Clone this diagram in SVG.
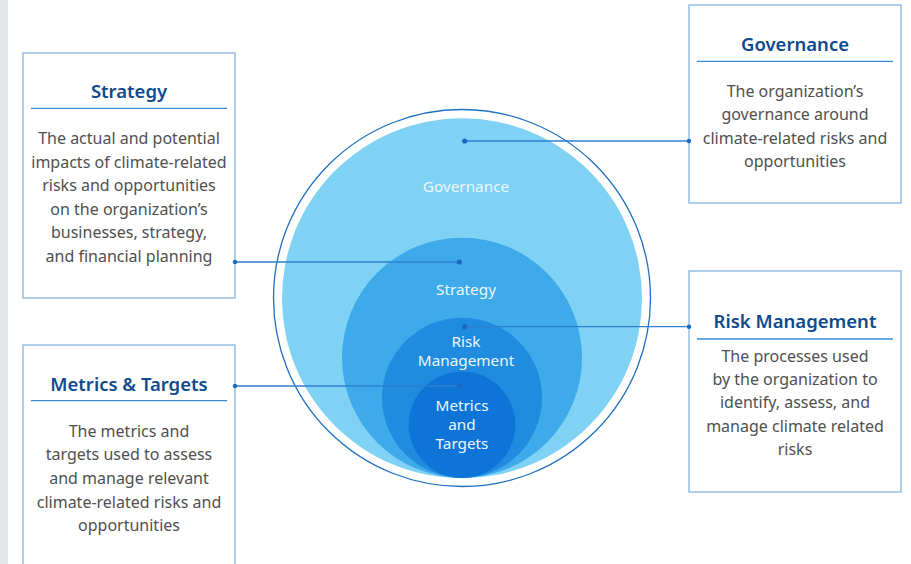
<svg xmlns="http://www.w3.org/2000/svg" width="911" height="564" viewBox="0 0 911 564">
  <style>
    .box { fill: #ffffff; stroke: #7aaee0; stroke-width: 1.2; }
    .rule { stroke: #3a8ad6; stroke-width: 1.3; }
    .title { font-family: "Noto Sans", "Open Sans", sans-serif; font-size: 18.5px; font-weight: 600; fill: #0e4a8c; text-anchor: middle; }
    .body { font-family: "Noto Sans", "Open Sans", sans-serif; font-size: 16px; fill: #505050; text-anchor: middle; }
    .ctext { font-family: "Noto Sans", "Open Sans", sans-serif; font-size: 15.3px; fill: #eef7fd; text-anchor: middle; }
    .link { stroke: #2e7fcf; stroke-width: 1.3; fill: none; }
    .dot { fill: #1b68c0; }
  </style>

  <!-- left margin strip -->
  <rect x="0" y="0" width="8" height="564" fill="#e6e7e9"/>

  <!-- nested circles -->
  <g id="circles">
    <circle cx="462" cy="298" r="188.5" fill="#ffffff" stroke="#1f70c2" stroke-width="1.3"/>
    <g id="circle-governance">
      <circle cx="462" cy="298.3" r="180" fill="#7fd2f4"/>
      <text class="ctext" x="466" y="192">Governance</text>
    </g>
    <g id="circle-strategy">
      <circle cx="462" cy="357.7" r="120" fill="#3eaaea"/>
      <text class="ctext" x="466" y="295">Strategy</text>
    </g>
    <g id="circle-risk">
      <circle cx="462" cy="397.7" r="80" fill="#1f8ce0"/>
      <text class="ctext" x="466" y="347">Risk</text>
      <text class="ctext" x="466" y="366">Management</text>
    </g>
    <g id="circle-metrics">
      <circle cx="462" cy="424.7" r="53.3" fill="#0f74d8"/>
      <text class="ctext" x="462" y="411">Metrics</text>
      <text class="ctext" x="462" y="430">and</text>
      <text class="ctext" x="462" y="448.5">Targets</text>
    </g>
  </g>

  <!-- Strategy box -->
  <g id="box-strategy">
    <rect class="box" x="23" y="53" width="212" height="245"/>
    <text class="title" x="129" y="98">Strategy</text>
    <line class="rule" x1="31" y1="108.3" x2="227" y2="108.3"/>
    <text class="body" x="129" y="144">The actual and potential</text>
    <text class="body" x="129" y="167.5">impacts of climate-related</text>
    <text class="body" x="129" y="191">risks and opportunities</text>
    <text class="body" x="129" y="214.5">on the organization’s</text>
    <text class="body" x="129" y="238">businesses, strategy,</text>
    <text class="body" x="129" y="261.5">and financial planning</text>
  </g>

  <!-- Metrics & Targets box -->
  <g id="box-metrics">
    <rect class="box" x="23" y="345" width="212" height="230"/>
    <text class="title" x="129" y="391">Metrics &amp; Targets</text>
    <line class="rule" x1="31" y1="400.7" x2="227" y2="400.7"/>
    <text class="body" x="129" y="436.5">The metrics and</text>
    <text class="body" x="129" y="460">targets used to assess</text>
    <text class="body" x="129" y="483.5">and manage relevant</text>
    <text class="body" x="129" y="507.5">climate-related risks and</text>
    <text class="body" x="129" y="531">opportunities</text>
  </g>

  <!-- Governance box -->
  <g id="box-governance">
    <rect class="box" x="689" y="5" width="212" height="198"/>
    <text class="title" x="795" y="50.5">Governance</text>
    <line class="rule" x1="697" y1="61.3" x2="893" y2="61.3"/>
    <text class="body" x="795" y="96.5">The organization’s</text>
    <text class="body" x="795" y="120">governance around</text>
    <text class="body" x="795" y="143.5">climate-related risks and</text>
    <text class="body" x="795" y="167">opportunities</text>
  </g>

  <!-- Risk Management box -->
  <g id="box-risk">
    <rect class="box" x="689" y="271" width="212" height="221"/>
    <text class="title" x="795" y="328.3">Risk Management</text>
    <line class="rule" x1="697" y1="339" x2="893" y2="339"/>
    <text class="body" x="795" y="361.5">The processes used</text>
    <text class="body" x="795" y="384.5">by the organization to</text>
    <text class="body" x="795" y="408">identify, assess, and</text>
    <text class="body" x="795" y="431.5">manage climate related</text>
    <text class="body" x="795" y="455">risks</text>
  </g>

  <!-- connectors -->
  <g id="connectors">
    <line class="link" x1="464.7" y1="141" x2="689" y2="141"/>
    <line class="link" x1="235" y1="262" x2="459.3" y2="262"/>
    <line class="link" x1="464.7" y1="326.7" x2="689" y2="326.7"/>
    <line class="link" x1="235" y1="386" x2="459.3" y2="386"/>
    <circle class="dot" cx="464.7" cy="141" r="2.6"/>
    <circle class="dot" cx="689" cy="141" r="2.2"/>
    <circle class="dot" cx="459.3" cy="262" r="2.6"/>
    <circle class="dot" cx="235" cy="262" r="2.2"/>
    <circle class="dot" cx="464.7" cy="326.7" r="2.6"/>
    <circle class="dot" cx="689" cy="326.7" r="2.2"/>
    <circle class="dot" cx="459.3" cy="386" r="2.6"/>
    <circle class="dot" cx="235" cy="386" r="2.2"/>
  </g>
</svg>
